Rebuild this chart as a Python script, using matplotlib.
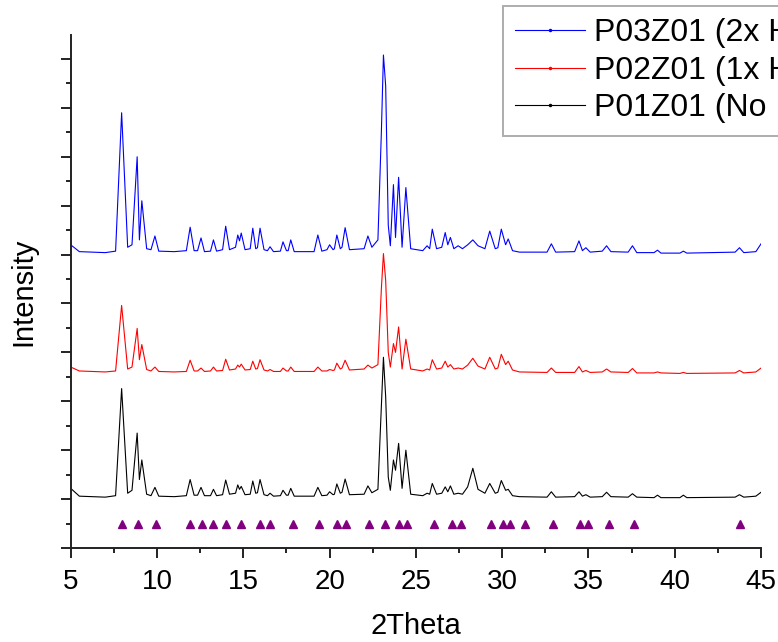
import matplotlib.pyplot as plt
from matplotlib.lines import Line2D

plt.rcParams['font.family'] = ['Liberation Sans', 'DejaVu Sans']

# 2Theta positions of the digitised vertices (shared by all three patterns)
two_theta = [
    5.0, 5.5, 7.0, 7.6, 7.95, 8.3, 8.55, 8.85, 8.98, 9.12, 9.4, 9.65, 9.88, 10.1,
    11.0, 11.7, 11.92, 12.15, 12.35, 12.55, 12.75, 13.1, 13.27, 13.45, 13.8, 13.98,
    14.2, 14.55, 14.68, 14.78, 14.88, 15.1, 15.4, 15.55, 15.72, 15.82, 15.97, 16.2,
    16.4, 16.55, 16.75, 17.15, 17.3, 17.5, 17.6, 17.75, 17.95, 19.1, 19.32, 19.55,
    19.85, 20.0, 20.2, 20.28, 20.42, 20.62, 20.72, 20.9, 21.15, 22.0, 22.22, 22.45,
    22.8, 23.0, 23.12, 23.25, 23.4, 23.52, 23.7, 23.82, 24.0, 24.2, 24.42, 24.7,
    25.4, 25.65, 25.8, 25.95, 26.2, 26.5, 26.7, 26.85, 27.0, 27.2, 27.45, 27.7,
    28.0, 28.3, 28.6, 29.0, 29.28, 29.6, 29.75, 29.95, 30.2, 30.35, 30.6, 31.0,
    32.6, 32.85, 33.1, 34.2, 34.45, 34.65, 34.85, 35.1, 35.8, 36.05, 36.3, 37.3,
    37.55, 37.8, 38.8, 39.0, 39.2, 40.3, 40.5, 40.7, 43.5, 43.75, 44.0, 44.7, 45.0,
]

# P03Z01, stacked on top
p03 = [
    6.20, 6.06, 6.04, 6.07, 8.90, 6.15, 6.20, 8.00, 6.30, 7.10, 6.12, 6.10, 6.38, 6.07,
    6.06, 6.08, 6.56, 6.08, 6.08, 6.34, 6.06, 6.07, 6.30, 6.07, 6.10, 6.58,
    6.10, 6.15, 6.40, 6.28, 6.44, 6.10, 6.12, 6.54, 6.12, 6.14, 6.54, 6.10,
    6.08, 6.16, 6.06, 6.07, 6.26, 6.08, 6.08, 6.30, 6.06, 6.06, 6.40, 6.07,
    6.10, 6.20, 6.10, 6.12, 6.40, 6.12, 6.15, 6.55, 6.10, 6.12, 6.38, 6.15,
    6.30, 8.50, 10.08, 9.45, 6.60, 6.18, 7.43, 6.35, 7.58, 6.15, 7.37, 6.12,
    6.08, 6.18, 6.12, 6.52, 6.12, 6.15, 6.45, 6.20, 6.35, 6.12, 6.18, 6.12,
    6.20, 6.30, 6.18, 6.12, 6.48, 6.12, 6.14, 6.52, 6.20, 6.32, 6.08, 6.05,
    6.05, 6.22, 6.05, 6.06, 6.28, 6.08, 6.14, 6.05, 6.07, 6.18, 6.06, 6.05,
    6.18, 6.04, 6.04, 6.09, 6.03, 6.03, 6.07, 6.03, 6.05, 6.14, 6.04, 6.06, 6.22,
]

# P02Z01, middle
p02 = [
    3.70, 3.62, 3.60, 3.62, 4.96, 3.66, 3.70, 4.49, 3.85, 4.16, 3.65, 3.62, 3.70, 3.61,
    3.60, 3.61, 3.84, 3.62, 3.62, 3.68, 3.61, 3.62, 3.70, 3.62, 3.63, 3.86,
    3.64, 3.66, 3.74, 3.70, 3.76, 3.64, 3.65, 3.82, 3.66, 3.67, 3.85, 3.64,
    3.62, 3.65, 3.61, 3.61, 3.68, 3.62, 3.62, 3.70, 3.61, 3.61, 3.70, 3.62,
    3.62, 3.65, 3.63, 3.64, 3.78, 3.66, 3.68, 3.84, 3.64, 3.66, 3.74, 3.68,
    3.75, 5.30, 6.02, 5.47, 4.00, 3.70, 4.18, 4.00, 4.52, 3.66, 4.27, 3.66,
    3.62, 3.66, 3.64, 3.85, 3.66, 3.68, 3.82, 3.70, 3.75, 3.66, 3.68, 3.66,
    3.74, 3.88, 3.72, 3.66, 3.90, 3.66, 3.68, 3.96, 3.75, 3.82, 3.64, 3.60,
    3.59, 3.68, 3.59, 3.59, 3.71, 3.60, 3.63, 3.59, 3.60, 3.66, 3.60, 3.59,
    3.67, 3.58, 3.58, 3.60, 3.58, 3.57, 3.59, 3.57, 3.58, 3.63, 3.58, 3.60, 3.68,
]

# P01Z01, bottom
p01 = [
    1.22, 1.06, 1.04, 1.07, 3.26, 1.12, 1.18, 2.35, 1.40, 1.80, 1.10, 1.07, 1.24, 1.06,
    1.05, 1.07, 1.40, 1.08, 1.08, 1.24, 1.07, 1.07, 1.20, 1.07, 1.09, 1.39,
    1.10, 1.12, 1.29, 1.20, 1.26, 1.09, 1.10, 1.37, 1.12, 1.13, 1.40, 1.09,
    1.07, 1.12, 1.06, 1.07, 1.18, 1.08, 1.08, 1.22, 1.06, 1.06, 1.24, 1.07,
    1.08, 1.15, 1.09, 1.10, 1.31, 1.12, 1.14, 1.41, 1.09, 1.10, 1.27, 1.13,
    1.20, 2.90, 3.90, 3.09, 1.45, 1.18, 1.80, 1.59, 2.14, 1.22, 2.00, 1.10,
    1.07, 1.12, 1.10, 1.32, 1.10, 1.12, 1.25, 1.15, 1.27, 1.10, 1.12, 1.10,
    1.25, 1.63, 1.20, 1.12, 1.32, 1.12, 1.14, 1.38, 1.18, 1.20, 1.07, 1.05,
    1.04, 1.15, 1.04, 1.05, 1.15, 1.06, 1.09, 1.04, 1.05, 1.14, 1.05, 1.04,
    1.11, 1.04, 1.03, 1.08, 1.03, 1.03, 1.08, 1.03, 1.04, 1.09, 1.04, 1.06, 1.14,
]

# reference reflections (purple triangles)
ref_2theta = [
    7.95, 8.88, 9.92, 11.94, 12.58, 13.27, 13.99, 14.87, 15.98, 16.57, 17.9,
    19.36, 20.42, 20.95, 22.31, 23.21, 24.04, 24.49, 26.03, 27.07, 27.6, 29.35,
    30.07, 30.47, 31.35, 32.94, 34.53, 34.99, 36.19, 37.65, 43.76,
]
ref_level = 0.5

# legend text as far as it is visible in the original figure
labels = ['P03Z01 (2x H', 'P02Z01 (1x H', 'P01Z01 (No H']
colors = ['#0000ff', '#ff0000', '#000000']

fig = plt.figure(figsize=(7.78, 6.42), dpi=100)
ax = fig.add_axes([0.0909, 0.1464, 0.8873, 0.7991])

handles = []
for ys, col in zip([p03, p02, p01], colors):
    ax.plot(two_theta, ys, color=col, lw=0.8)
    handles.append(Line2D([], [], color=col, lw=0.8, marker='.', ms=3))

ax.plot(ref_2theta, [ref_level] * len(ref_2theta), linestyle='none',
        marker='^', ms=6, color='#800080')

ax.set_xlim(5, 45)
ax.set_ylim(0, 10.49)
ax.set_xticks(range(5, 46, 5))
ax.set_xticks([x + 2.5 for x in range(5, 45, 5)], minor=True)
ax.set_yticks(range(0, 11))
ax.set_yticks([y + 0.5 for y in range(0, 10)], minor=True)
ax.set_yticklabels([])

for s in ['top', 'right']:
    ax.spines[s].set_visible(False)
for s in ['left', 'bottom']:
    ax.spines[s].set_linewidth(1.4)
    ax.spines[s].set_color('#222222')

ax.tick_params(which='major', direction='out', length=7, width=1.4,
               color='#222222', labelsize=20, pad=8)
ax.tick_params(which='minor', direction='out', length=3.6, width=1.4,
               color='#222222')

ax.set_xlabel('2Theta', fontsize=21, labelpad=12)
ax.set_ylabel('Intensity', fontsize=21, labelpad=9)

leg = ax.legend(handles, labels, loc='upper left',
                bbox_to_anchor=(503 / 778, 1 - 6 / 642),
                bbox_transform=fig.transFigure, fontsize=23, frameon=True,
                fancybox=False, edgecolor='#999999', borderaxespad=0,
                borderpad=0.38, labelspacing=0.24, handlelength=2.2,
                handletextpad=0.28)
leg.get_frame().set_linewidth(1.4)

plt.savefig('out.png', dpi=100)
